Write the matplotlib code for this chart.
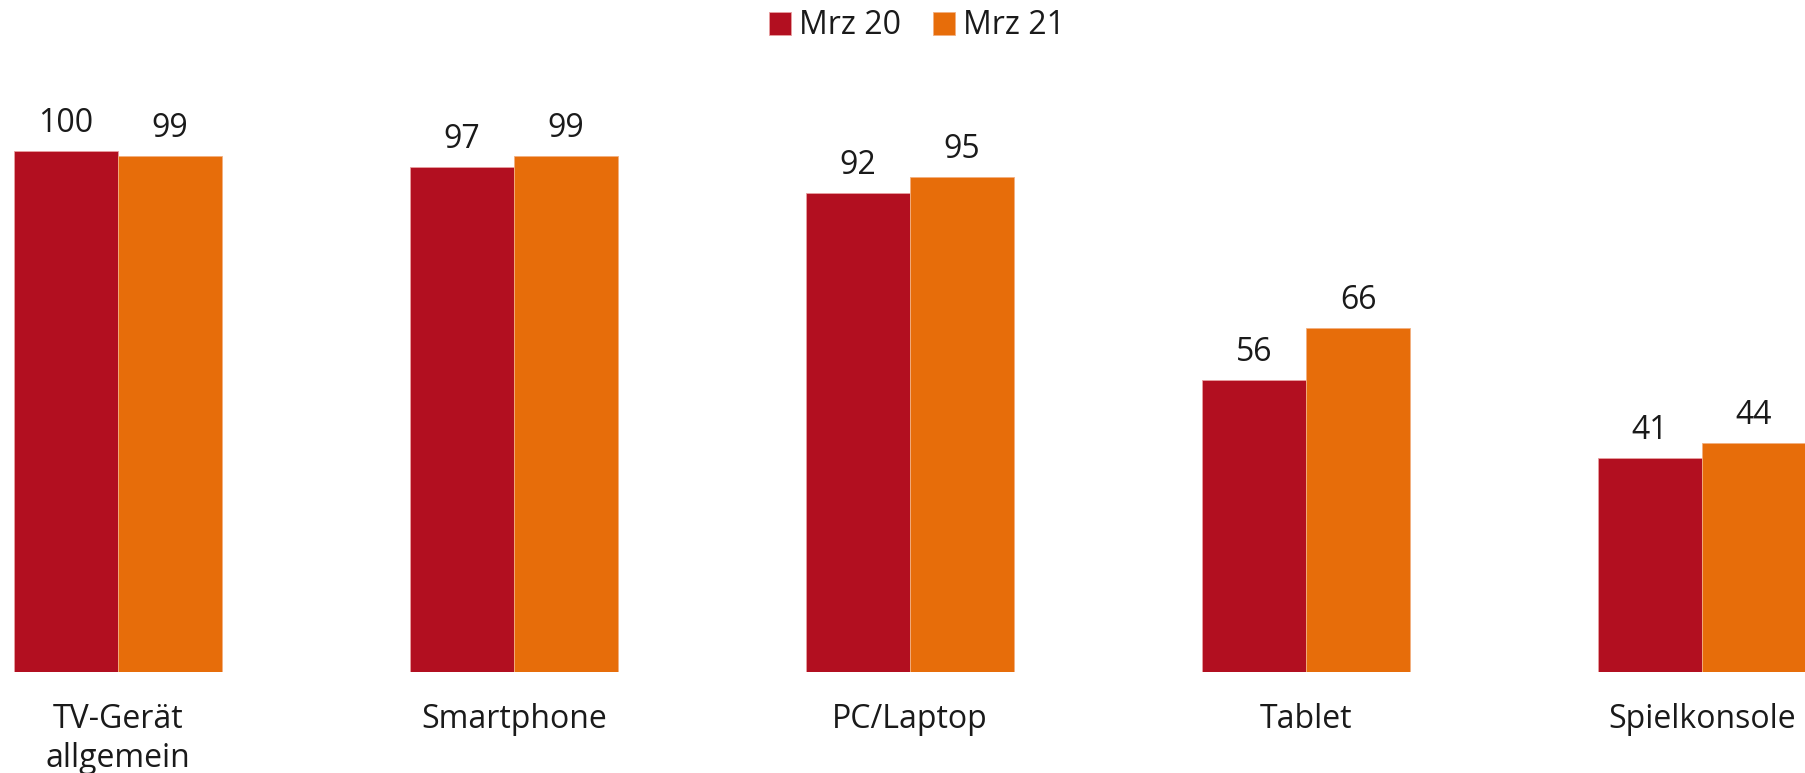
import matplotlib
matplotlib.use("Agg")
import matplotlib.pyplot as plt
import numpy as np

categories = ["TV-Gerät\nallgemein", "Smartphone", "PC/Laptop", "Tablet", "Spielkonsole"]
series_names = ["Mrz 20", "Mrz 21"]
mrz20 = [100, 97, 92, 56, 41]
mrz21 = [99, 99, 95, 66, 44]
colors = ["#B20F20", "#E76D0A"]

plt.rcParams['font.family'] = ['Open Sans', 'DejaVu Sans']

fig = plt.figure(figsize=(18.05, 7.73), dpi=100)
ax = fig.add_axes([0, 1 - 672/773, 1, 672/773 - 0.0])

x = np.arange(len(categories))
w = 104/396
b1 = ax.bar(x - w/2, mrz20, w, color=colors[0], edgecolor="#e8a0a0", linewidth=0.6, label=series_names[0])
b2 = ax.bar(x + w/2, mrz21, w, color=colors[1], edgecolor="#f2b080", linewidth=0.6, label=series_names[1])

for bars, vals in ((b1, mrz20), (b2, mrz21)):
    for r, v in zip(bars, vals):
        ax.annotate(str(v), (r.get_x() + r.get_width()/2, v), xytext=(0, 8),
                    textcoords="offset points", ha="center", va="bottom",
                    fontsize=23, color="#1a1a1a")

ax.set_xlim(-118/396, (1805-118)/396)
ax.set_ylim(0, 672/5.21)
ax.set_xticks(x)
ax.set_xticklabels(categories, fontsize=23, color="#1a1a1a", linespacing=1.25)
ax.tick_params(axis="x", length=0, pad=22)
ax.set_yticks([])
for s in ax.spines.values():
    s.set_visible(False)

fig.legend(handles=[b1, b2], labels=series_names, loc="center", bbox_to_anchor=(917/1805, 1 - 26/773),
           ncol=2, frameon=False, fontsize=23, handlelength=0.7, handleheight=0.7,
           handletextpad=0.25, columnspacing=1.0, labelcolor="#1a1a1a")

fig.savefig("out.png", dpi=100)
